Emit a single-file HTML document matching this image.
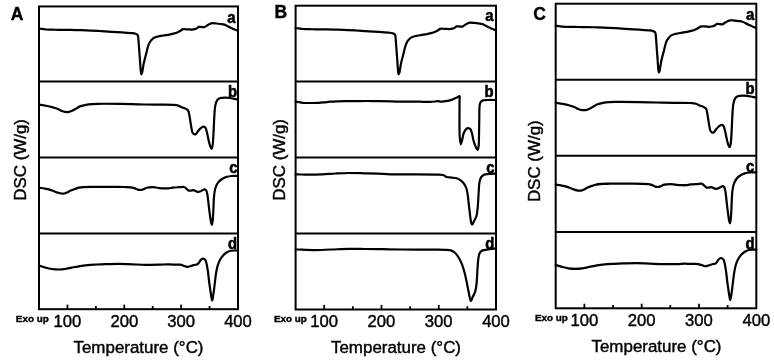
<!DOCTYPE html>
<html><head><meta charset="utf-8"><style>
html,body{margin:0;padding:0;background:#fff;}
svg{display:block;filter:grayscale(100%);}
.fr{fill:none;stroke:#000;stroke-width:2.0;}
.tk{stroke:#000;stroke-width:1.8;}
.cv{fill:none;stroke:#000;stroke-width:2.2;stroke-linejoin:round;stroke-linecap:round;}
text{font-family:"Liberation Sans",sans-serif;fill:#000;}
.pl{font-size:17.5px;font-weight:bold;}
.cl{font-size:16.5px;font-weight:bold;stroke-width:0.6px;}
.tl{font-size:16px;}
.ex{font-size:9.8px;font-weight:bold;}
.ax{font-size:16.3px;}
text{stroke:#000;stroke-width:0.4px;}
text.cl{stroke-width:0.6px;}
</style></head><body>
<svg width="774" height="361" viewBox="0 0 774 361">
<rect width="774" height="361" fill="#fff"/>
<rect x="39.0" y="6.45" width="199.00" height="302.75" class="fr"/>
<line x1="39.0" y1="81.5" x2="238.0" y2="81.5" class="fr"/>
<line x1="39.0" y1="157.6" x2="238.0" y2="157.6" class="fr"/>
<line x1="39.0" y1="233.6" x2="238.0" y2="233.6" class="fr"/>
<line x1="67.43" y1="309.2" x2="67.43" y2="304.60" class="tk"/>
<line x1="95.86" y1="309.2" x2="95.86" y2="306.00" class="tk"/>
<line x1="124.29" y1="309.2" x2="124.29" y2="304.60" class="tk"/>
<line x1="152.71" y1="309.2" x2="152.71" y2="306.00" class="tk"/>
<line x1="181.14" y1="309.2" x2="181.14" y2="304.60" class="tk"/>
<line x1="209.57" y1="309.2" x2="209.57" y2="306.00" class="tk"/>
<rect x="295.6" y="5.7" width="200.40" height="303.80" class="fr"/>
<line x1="295.6" y1="81.5" x2="496.0" y2="81.5" class="fr"/>
<line x1="295.6" y1="157.5" x2="496.0" y2="157.5" class="fr"/>
<line x1="295.6" y1="233.5" x2="496.0" y2="233.5" class="fr"/>
<line x1="324.23" y1="309.5" x2="324.23" y2="304.90" class="tk"/>
<line x1="352.86" y1="309.5" x2="352.86" y2="306.30" class="tk"/>
<line x1="381.49" y1="309.5" x2="381.49" y2="304.90" class="tk"/>
<line x1="410.11" y1="309.5" x2="410.11" y2="306.30" class="tk"/>
<line x1="438.74" y1="309.5" x2="438.74" y2="304.90" class="tk"/>
<line x1="467.37" y1="309.5" x2="467.37" y2="306.30" class="tk"/>
<path d="M39.00,28.70 C40.00,28.77 40.93,28.78 42.00,28.90 C43.24,29.03 44.39,29.36 46.00,29.50 C48.39,29.71 52.30,29.70 55.00,29.75 C57.20,29.79 58.80,29.78 61.00,29.80 C63.70,29.83 67.19,29.85 70.00,29.90 C72.48,29.94 74.99,29.99 77.00,30.05 C78.52,30.09 79.37,30.14 81.00,30.20 C83.58,30.30 87.96,30.47 91.00,30.60 C93.54,30.71 96.10,30.80 98.00,30.90 C99.30,30.97 99.89,31.01 101.30,31.10 C103.80,31.26 108.24,31.58 111.70,31.80 C115.14,32.02 118.56,32.17 122.00,32.40 C125.46,32.63 129.96,32.87 132.40,33.20 C133.74,33.38 134.64,33.52 135.50,33.80 C136.17,34.02 136.78,34.21 137.20,34.60 C137.59,34.96 137.79,35.34 138.00,36.00 C138.41,37.28 138.41,39.78 138.60,42.00 C138.84,44.76 139.07,48.20 139.30,51.30 C139.53,54.40 139.78,57.60 140.00,60.60 C140.21,63.42 140.35,66.34 140.60,68.80 C140.80,70.82 140.92,74.24 141.30,74.30 C141.52,74.33 141.87,73.32 142.10,72.60 C142.45,71.49 142.65,69.65 142.90,68.20 C143.15,66.78 143.30,65.48 143.60,64.00 C143.94,62.31 144.45,60.39 144.90,58.60 C145.35,56.82 145.89,54.91 146.30,53.30 C146.64,51.96 146.89,50.81 147.20,49.60 C147.49,48.44 147.73,47.33 148.10,46.20 C148.49,45.03 148.91,43.76 149.50,42.70 C150.06,41.70 150.75,40.82 151.50,40.00 C152.25,39.19 153.00,38.37 154.00,37.80 C155.12,37.16 156.55,36.87 158.00,36.50 C159.67,36.08 161.63,35.81 163.50,35.50 C165.43,35.18 167.62,34.95 169.40,34.60 C170.90,34.30 172.13,33.99 173.50,33.60 C174.90,33.20 176.46,32.71 177.70,32.20 C178.74,31.77 179.66,31.30 180.50,30.80 C181.24,30.36 181.66,29.68 182.50,29.40 C183.60,29.04 185.25,29.27 186.70,29.30 C188.27,29.33 190.12,29.66 191.60,29.60 C192.84,29.55 194.06,29.35 195.00,29.10 C195.71,28.91 196.22,28.73 196.80,28.40 C197.45,28.03 197.98,27.15 198.70,26.90 C199.42,26.65 200.26,26.86 201.10,26.90 C202.05,26.95 203.13,27.41 204.10,27.20 C205.16,26.97 206.23,25.94 207.20,25.40 C208.05,24.92 208.78,24.47 209.60,24.10 C210.41,23.74 211.14,23.33 212.10,23.20 C213.30,23.03 214.89,23.37 216.30,23.50 C217.73,23.63 219.22,23.81 220.60,24.00 C221.88,24.18 223.15,24.25 224.30,24.60 C225.38,24.93 226.21,25.48 227.30,26.00 C228.61,26.62 230.30,27.46 231.60,28.10 C232.69,28.64 233.58,29.17 234.60,29.60 C235.61,30.03 236.67,30.33 237.70,30.70" class="cv"/>
<path d="M39.00,104.60 C41.27,104.98 43.59,105.32 45.80,105.75 C47.92,106.16 50.02,106.56 52.00,107.10 C53.88,107.61 55.77,108.18 57.40,108.85 C58.83,109.44 59.98,110.29 61.30,110.80 C62.55,111.29 63.81,111.72 65.10,111.90 C66.38,112.08 67.79,112.11 69.00,111.90 C70.11,111.71 70.98,111.31 72.10,110.80 C73.53,110.14 75.31,108.92 76.80,108.10 C78.13,107.37 79.18,106.63 80.60,106.10 C82.23,105.49 84.20,105.13 86.10,104.80 C88.09,104.45 90.27,104.27 92.30,104.10 C94.24,103.94 95.46,103.86 98.00,103.80 C103.14,103.68 114.10,103.83 121.30,103.95 C127.52,104.05 132.90,104.27 138.70,104.40 C144.50,104.52 150.29,104.62 156.10,104.70 C161.92,104.78 169.65,104.58 173.60,104.90 C175.63,105.07 176.80,105.16 178.20,105.60 C179.48,106.00 180.51,106.80 181.70,107.30 C182.88,107.80 184.21,108.04 185.30,108.60 C186.33,109.12 187.45,109.60 188.10,110.50 C188.81,111.48 188.87,112.92 189.20,114.40 C189.63,116.30 189.93,118.79 190.30,121.00 C190.67,123.22 191.00,125.66 191.40,127.70 C191.74,129.44 191.88,131.34 192.50,132.50 C192.94,133.32 193.58,134.10 194.20,134.30 C194.70,134.46 195.28,134.32 195.80,134.00 C196.59,133.51 197.27,131.96 198.10,131.00 C198.94,130.03 199.86,128.96 200.80,128.20 C201.63,127.53 202.59,126.64 203.40,126.60 C204.07,126.56 204.77,126.91 205.30,127.50 C206.13,128.44 206.49,130.64 207.00,132.50 C207.62,134.77 208.02,137.76 208.60,140.20 C209.13,142.44 209.65,145.05 210.30,146.60 C210.70,147.56 211.24,148.85 211.60,148.80 C212.04,148.74 212.33,146.76 212.60,145.20 C213.09,142.43 213.23,137.74 213.50,133.50 C213.82,128.45 213.96,121.91 214.30,116.90 C214.58,112.74 214.69,108.48 215.30,105.50 C215.71,103.50 216.09,101.87 216.90,100.60 C217.57,99.55 218.33,98.72 219.50,98.20 C221.08,97.50 223.97,97.60 225.90,97.60 C227.50,97.60 228.88,97.79 230.30,98.00 C231.64,98.20 232.91,98.55 234.20,98.80 C235.47,99.05 236.73,99.27 238.00,99.50" class="cv"/>
<path d="M39.00,187.70 C40.73,187.97 42.45,188.19 44.20,188.50 C45.99,188.82 47.96,189.14 49.60,189.60 C51.02,190.00 52.21,190.50 53.50,191.00 C54.81,191.50 56.08,192.18 57.40,192.60 C58.68,193.01 60.07,193.36 61.30,193.50 C62.39,193.62 63.38,193.69 64.40,193.50 C65.45,193.30 66.48,192.77 67.50,192.30 C68.55,191.81 69.44,191.13 70.60,190.60 C71.96,189.98 73.72,189.40 75.20,188.90 C76.55,188.44 77.68,187.99 79.10,187.70 C80.74,187.37 82.53,187.28 84.50,187.15 C86.86,186.99 89.90,186.96 92.30,186.90 C94.35,186.85 95.69,186.81 98.00,186.80 C101.56,186.78 107.08,186.87 111.60,186.90 C116.11,186.93 121.61,186.89 125.10,187.00 C127.31,187.07 128.88,187.08 130.50,187.30 C131.86,187.48 132.99,187.72 134.20,188.10 C135.43,188.48 136.67,189.29 137.80,189.60 C138.75,189.86 139.60,190.05 140.50,190.00 C141.40,189.95 142.25,189.62 143.20,189.30 C144.33,188.92 145.45,188.15 146.80,187.80 C148.41,187.38 150.66,187.22 152.30,187.20 C153.63,187.18 154.70,187.35 155.90,187.50 C157.10,187.65 158.17,187.96 159.50,188.10 C161.14,188.27 163.37,188.32 165.00,188.35 C166.30,188.37 167.29,188.41 168.50,188.30 C169.82,188.18 171.05,187.78 172.60,187.60 C174.60,187.37 177.42,187.30 179.50,187.20 C181.22,187.11 183.06,186.67 184.20,187.00 C184.96,187.22 185.30,187.72 185.90,188.20 C186.65,188.80 187.44,190.02 188.30,190.40 C189.02,190.72 189.79,190.62 190.60,190.60 C191.51,190.58 192.60,190.09 193.50,190.20 C194.32,190.30 195.03,190.82 195.80,191.10 C196.56,191.38 197.32,191.86 198.10,191.90 C198.89,191.94 199.73,191.61 200.50,191.30 C201.30,190.98 202.06,190.34 202.80,190.00 C203.45,189.70 204.12,189.23 204.70,189.30 C205.25,189.36 205.80,189.74 206.20,190.30 C206.84,191.18 207.06,192.89 207.40,194.60 C207.88,197.02 208.12,200.40 208.50,203.50 C208.92,206.88 209.35,210.82 209.80,214.10 C210.19,216.96 210.54,220.11 211.00,222.10 C211.28,223.32 211.63,225.02 211.90,225.00 C212.26,224.97 212.56,221.64 212.80,219.40 C213.16,216.08 213.27,211.13 213.50,207.00 C213.73,202.87 213.75,198.15 214.20,194.60 C214.54,191.89 214.92,189.55 215.60,187.50 C216.16,185.82 216.77,184.42 217.70,183.10 C218.66,181.75 219.89,180.51 221.30,179.50 C222.82,178.41 224.79,177.48 226.60,176.90 C228.33,176.34 230.06,176.15 231.90,176.00 C233.86,175.84 235.97,176.00 238.00,176.00" class="cv"/>
<path d="M39.00,265.60 C41.07,266.23 43.11,266.93 45.20,267.50 C47.31,268.07 49.39,268.67 51.60,269.00 C53.92,269.35 56.48,269.51 58.80,269.50 C60.97,269.49 63.00,269.30 65.10,269.00 C67.23,268.70 69.30,268.14 71.50,267.70 C73.83,267.24 76.16,266.72 78.70,266.30 C81.53,265.84 84.69,265.40 87.70,265.10 C90.72,264.80 93.84,264.67 96.80,264.50 C99.60,264.34 101.92,264.21 105.00,264.10 C108.96,263.96 114.08,263.77 118.60,263.80 C123.11,263.83 127.59,264.13 132.10,264.30 C136.62,264.47 141.17,264.73 145.70,264.80 C150.21,264.87 155.26,264.81 159.20,264.70 C162.27,264.61 165.06,264.28 167.40,264.30 C169.15,264.31 170.24,264.53 172.00,264.60 C174.36,264.69 178.28,264.40 180.30,264.70 C181.50,264.87 182.18,265.20 183.10,265.50 C184.01,265.80 184.98,266.26 185.80,266.50 C186.45,266.69 186.96,266.91 187.60,266.90 C188.34,266.89 189.17,266.54 190.00,266.30 C190.90,266.04 191.87,265.67 192.80,265.40 C193.70,265.14 194.65,264.89 195.50,264.70 C196.24,264.53 197.02,264.65 197.60,264.30 C198.20,263.93 198.49,263.17 199.00,262.50 C199.63,261.67 200.33,260.35 201.10,259.70 C201.72,259.18 202.43,258.69 203.10,258.70 C203.79,258.71 204.65,259.16 205.20,259.80 C205.95,260.68 206.19,262.36 206.60,264.00 C207.16,266.22 207.60,269.21 208.00,272.00 C208.44,275.02 208.70,278.43 209.10,281.50 C209.47,284.39 209.91,287.27 210.30,289.90 C210.64,292.23 210.94,294.58 211.30,296.50 C211.58,298.01 211.90,300.50 212.20,300.50 C212.56,300.49 212.95,296.97 213.30,294.80 C213.76,291.96 214.18,288.21 214.60,284.90 C215.02,281.58 215.30,278.07 215.80,274.90 C216.25,272.00 216.67,269.18 217.40,266.60 C218.07,264.24 218.85,261.95 219.90,260.00 C220.85,258.23 222.09,256.61 223.30,255.30 C224.34,254.17 225.38,253.25 226.60,252.50 C227.84,251.74 229.24,251.14 230.70,250.80 C232.26,250.44 234.35,250.54 235.70,250.50 C236.61,250.47 237.23,250.50 238.00,250.50" class="cv"/>
<path d="M39.00,28.70 C40.00,28.77 40.93,28.78 42.00,28.90 C43.24,29.03 44.39,29.36 46.00,29.50 C48.39,29.71 52.30,29.70 55.00,29.75 C57.20,29.79 58.80,29.78 61.00,29.80 C63.70,29.83 67.19,29.85 70.00,29.90 C72.48,29.94 74.99,29.99 77.00,30.05 C78.52,30.09 79.37,30.14 81.00,30.20 C83.58,30.30 87.96,30.47 91.00,30.60 C93.54,30.71 96.10,30.80 98.00,30.90 C99.30,30.97 99.89,31.01 101.30,31.10 C103.80,31.26 108.24,31.58 111.70,31.80 C115.14,32.02 118.56,32.17 122.00,32.40 C125.46,32.63 129.96,32.87 132.40,33.20 C133.74,33.38 134.64,33.52 135.50,33.80 C136.17,34.02 136.78,34.21 137.20,34.60 C137.59,34.96 137.79,35.34 138.00,36.00 C138.41,37.28 138.41,39.78 138.60,42.00 C138.84,44.76 139.07,48.20 139.30,51.30 C139.53,54.40 139.78,57.60 140.00,60.60 C140.21,63.42 140.35,66.34 140.60,68.80 C140.80,70.82 140.92,74.24 141.30,74.30 C141.52,74.33 141.87,73.32 142.10,72.60 C142.45,71.49 142.65,69.65 142.90,68.20 C143.15,66.78 143.30,65.48 143.60,64.00 C143.94,62.31 144.45,60.39 144.90,58.60 C145.35,56.82 145.89,54.91 146.30,53.30 C146.64,51.96 146.89,50.81 147.20,49.60 C147.49,48.44 147.73,47.33 148.10,46.20 C148.49,45.03 148.91,43.76 149.50,42.70 C150.06,41.70 150.75,40.82 151.50,40.00 C152.25,39.19 153.00,38.37 154.00,37.80 C155.12,37.16 156.55,36.87 158.00,36.50 C159.67,36.08 161.63,35.81 163.50,35.50 C165.43,35.18 167.62,34.95 169.40,34.60 C170.90,34.30 172.13,33.99 173.50,33.60 C174.90,33.20 176.46,32.71 177.70,32.20 C178.74,31.77 179.66,31.30 180.50,30.80 C181.24,30.36 181.66,29.68 182.50,29.40 C183.60,29.04 185.25,29.27 186.70,29.30 C188.27,29.33 190.12,29.66 191.60,29.60 C192.84,29.55 194.06,29.35 195.00,29.10 C195.71,28.91 196.22,28.73 196.80,28.40 C197.45,28.03 197.98,27.15 198.70,26.90 C199.42,26.65 200.26,26.86 201.10,26.90 C202.05,26.95 203.13,27.41 204.10,27.20 C205.16,26.97 206.23,25.94 207.20,25.40 C208.05,24.92 208.78,24.47 209.60,24.10 C210.41,23.74 211.14,23.33 212.10,23.20 C213.30,23.03 214.89,23.37 216.30,23.50 C217.73,23.63 219.22,23.81 220.60,24.00 C221.88,24.18 223.15,24.25 224.30,24.60 C225.38,24.93 226.21,25.48 227.30,26.00 C228.61,26.62 230.30,27.46 231.60,28.10 C232.69,28.64 233.58,29.17 234.60,29.60 C235.61,30.03 236.67,30.33 237.70,30.70" class="cv" transform="matrix(1.007,0,0,1.0107,256.327,-0.819)"/>
<path d="M295.60,101.70 C296.17,101.73 296.57,101.71 297.30,101.80 C298.61,101.96 300.80,102.59 302.80,102.80 C305.14,103.04 307.92,102.99 310.50,103.00 C313.09,103.01 315.85,102.98 318.30,102.85 C320.49,102.73 322.51,102.50 324.50,102.30 C326.36,102.11 327.94,101.86 329.90,101.70 C332.24,101.51 335.02,101.40 337.60,101.30 C340.19,101.20 342.66,101.14 345.40,101.10 C348.43,101.05 351.30,101.06 355.00,101.05 C360.08,101.04 367.07,100.99 373.10,101.05 C379.13,101.11 385.61,101.28 391.20,101.40 C396.03,101.50 400.64,101.68 404.70,101.70 C408.03,101.72 411.06,101.59 413.80,101.60 C416.06,101.61 417.74,101.66 420.00,101.70 C422.74,101.75 426.37,101.96 429.10,101.90 C431.34,101.85 433.62,101.68 435.20,101.50 C436.22,101.39 436.79,101.11 437.70,101.10 C438.79,101.09 439.94,101.58 441.30,101.60 C443.07,101.62 445.49,101.26 447.40,100.90 C449.14,100.57 450.74,100.14 452.30,99.60 C453.80,99.08 455.31,98.36 456.60,97.75 C457.70,97.23 459.09,95.89 459.60,96.20 C460.14,96.53 459.56,98.33 459.55,100.00 C459.52,103.20 459.51,109.27 459.50,114.00 C459.49,118.86 459.41,124.34 459.50,128.80 C459.57,132.49 459.58,136.07 459.90,138.90 C460.13,140.99 460.50,144.28 460.90,144.30 C461.25,144.32 461.71,141.82 462.10,140.30 C462.61,138.34 462.85,135.45 463.60,133.50 C464.23,131.88 465.05,130.18 466.00,129.30 C466.69,128.66 467.54,128.19 468.30,128.20 C469.04,128.21 469.92,128.65 470.50,129.30 C471.28,130.18 471.55,131.91 472.00,133.50 C472.57,135.52 472.88,138.26 473.50,140.50 C474.09,142.62 474.78,144.93 475.60,146.60 C476.23,147.88 477.20,149.88 477.70,149.80 C478.18,149.72 478.38,147.93 478.60,146.50 C478.98,144.00 478.89,140.00 479.00,136.00 C479.14,130.66 479.18,122.78 479.30,117.30 C479.39,113.00 479.19,108.53 479.60,105.80 C479.83,104.24 479.97,103.12 480.60,102.20 C481.16,101.38 481.99,100.78 483.00,100.40 C484.31,99.90 486.14,100.07 488.00,100.00 C490.35,99.91 493.33,100.00 496.00,100.00" class="cv"/>
<path d="M295.60,174.40 C296.30,174.40 296.73,174.39 297.70,174.40 C299.92,174.43 304.77,174.69 308.60,174.70 C312.86,174.71 317.59,174.60 322.10,174.40 C326.63,174.20 331.17,173.73 335.70,173.50 C340.21,173.27 344.52,173.04 349.20,173.00 C354.26,172.95 359.55,173.17 365.00,173.30 C370.83,173.44 378.11,173.59 383.10,173.80 C386.62,173.95 388.58,174.19 392.10,174.30 C397.09,174.45 403.69,174.36 410.20,174.40 C417.82,174.45 428.94,174.43 435.00,174.60 C438.51,174.70 441.22,174.36 443.30,175.00 C444.72,175.43 445.33,176.56 446.60,177.00 C448.05,177.50 449.93,177.38 451.60,177.60 C453.27,177.82 455.05,177.81 456.60,178.30 C458.08,178.77 459.46,179.50 460.70,180.40 C461.97,181.32 463.16,182.49 464.10,183.80 C465.08,185.17 465.82,186.83 466.40,188.50 C467.00,190.23 467.25,191.86 467.60,194.00 C468.09,196.95 468.39,201.05 468.80,204.60 C469.22,208.18 469.66,212.17 470.10,215.40 C470.46,218.05 470.68,220.97 471.20,222.60 C471.49,223.50 471.80,224.60 472.20,224.60 C472.75,224.61 473.53,222.13 474.20,220.80 C474.93,219.37 475.83,218.15 476.40,216.30 C477.20,213.69 477.43,210.02 477.80,206.40 C478.24,202.06 478.39,196.35 478.70,192.00 C478.96,188.39 478.99,184.74 479.50,182.10 C479.85,180.28 480.15,178.84 480.90,177.60 C481.57,176.49 482.43,175.50 483.60,174.90 C485.01,174.18 487.20,174.22 489.00,174.00 C490.80,173.78 493.13,173.65 494.40,173.60 C495.09,173.57 495.47,173.60 496.00,173.60" class="cv"/>
<path d="M295.60,249.50 C296.30,249.50 296.68,249.48 297.70,249.50 C300.47,249.55 307.76,250.08 313.10,250.10 C318.89,250.12 325.18,249.70 331.20,249.50 C337.21,249.30 343.39,248.98 349.20,248.90 C354.64,248.83 359.55,248.95 365.00,249.00 C370.83,249.05 377.07,249.12 383.10,249.20 C389.13,249.28 394.23,249.43 401.20,249.50 C410.72,249.59 427.06,249.51 435.00,249.60 C439.32,249.65 442.02,249.59 445.00,249.80 C447.43,249.97 449.84,249.95 451.60,250.60 C452.96,251.10 453.86,251.85 454.90,252.80 C456.11,253.91 457.25,255.39 458.30,257.00 C459.51,258.86 460.63,261.07 461.60,263.40 C462.69,266.02 463.58,269.04 464.40,272.00 C465.26,275.09 465.94,278.47 466.60,281.60 C467.23,284.57 467.74,287.53 468.30,290.30 C468.81,292.84 469.26,295.62 469.80,297.60 C470.18,298.99 470.54,301.08 471.00,301.10 C471.52,301.12 472.15,298.25 472.80,296.80 C473.48,295.28 474.42,293.95 475.00,292.20 C475.69,290.11 476.04,287.75 476.40,285.00 C476.88,281.40 477.00,276.60 477.30,272.40 C477.60,268.20 477.72,263.27 478.20,259.80 C478.54,257.33 478.72,255.09 479.50,253.50 C480.08,252.32 480.83,251.40 481.80,250.80 C482.79,250.19 484.07,250.18 485.40,249.90 C487.01,249.56 489.01,249.22 490.80,249.00 C492.54,248.79 494.27,248.73 496.00,248.60" class="cv"/>
<rect x="555.7" y="3.7" width="200.60" height="304.60" class="fr"/>
<line x1="555.7" y1="79.8" x2="756.3" y2="79.8" class="fr"/>
<line x1="555.7" y1="155.8" x2="756.3" y2="155.8" class="fr"/>
<line x1="555.7" y1="232.1" x2="756.3" y2="232.1" class="fr"/>
<line x1="584.36" y1="308.3" x2="584.36" y2="303.70" class="tk"/>
<line x1="613.01" y1="308.3" x2="613.01" y2="305.10" class="tk"/>
<line x1="641.67" y1="308.3" x2="641.67" y2="303.70" class="tk"/>
<line x1="670.33" y1="308.3" x2="670.33" y2="305.10" class="tk"/>
<line x1="698.99" y1="308.3" x2="698.99" y2="303.70" class="tk"/>
<line x1="727.64" y1="308.3" x2="727.64" y2="305.10" class="tk"/>
<path d="M39.00,28.70 C40.00,28.77 40.93,28.78 42.00,28.90 C43.24,29.03 44.39,29.36 46.00,29.50 C48.39,29.71 52.30,29.70 55.00,29.75 C57.20,29.79 58.80,29.78 61.00,29.80 C63.70,29.83 67.19,29.85 70.00,29.90 C72.48,29.94 74.99,29.99 77.00,30.05 C78.52,30.09 79.37,30.14 81.00,30.20 C83.58,30.30 87.96,30.47 91.00,30.60 C93.54,30.71 96.10,30.80 98.00,30.90 C99.30,30.97 99.89,31.01 101.30,31.10 C103.80,31.26 108.24,31.58 111.70,31.80 C115.14,32.02 118.56,32.17 122.00,32.40 C125.46,32.63 129.96,32.87 132.40,33.20 C133.74,33.38 134.64,33.52 135.50,33.80 C136.17,34.02 136.78,34.21 137.20,34.60 C137.59,34.96 137.79,35.34 138.00,36.00 C138.41,37.28 138.41,39.78 138.60,42.00 C138.84,44.76 139.07,48.20 139.30,51.30 C139.53,54.40 139.78,57.60 140.00,60.60 C140.21,63.42 140.35,66.34 140.60,68.80 C140.80,70.82 140.92,74.24 141.30,74.30 C141.52,74.33 141.87,73.32 142.10,72.60 C142.45,71.49 142.65,69.65 142.90,68.20 C143.15,66.78 143.30,65.48 143.60,64.00 C143.94,62.31 144.45,60.39 144.90,58.60 C145.35,56.82 145.89,54.91 146.30,53.30 C146.64,51.96 146.89,50.81 147.20,49.60 C147.49,48.44 147.73,47.33 148.10,46.20 C148.49,45.03 148.91,43.76 149.50,42.70 C150.06,41.70 150.75,40.82 151.50,40.00 C152.25,39.19 153.00,38.37 154.00,37.80 C155.12,37.16 156.55,36.87 158.00,36.50 C159.67,36.08 161.63,35.81 163.50,35.50 C165.43,35.18 167.62,34.95 169.40,34.60 C170.90,34.30 172.13,33.99 173.50,33.60 C174.90,33.20 176.46,32.71 177.70,32.20 C178.74,31.77 179.66,31.30 180.50,30.80 C181.24,30.36 181.66,29.68 182.50,29.40 C183.60,29.04 185.25,29.27 186.70,29.30 C188.27,29.33 190.12,29.66 191.60,29.60 C192.84,29.55 194.06,29.35 195.00,29.10 C195.71,28.91 196.22,28.73 196.80,28.40 C197.45,28.03 197.98,27.15 198.70,26.90 C199.42,26.65 200.26,26.86 201.10,26.90 C202.05,26.95 203.13,27.41 204.10,27.20 C205.16,26.97 206.23,25.94 207.20,25.40 C208.05,24.92 208.78,24.47 209.60,24.10 C210.41,23.74 211.14,23.33 212.10,23.20 C213.30,23.03 214.89,23.37 216.30,23.50 C217.73,23.63 219.22,23.81 220.60,24.00 C221.88,24.18 223.15,24.25 224.30,24.60 C225.38,24.93 226.21,25.48 227.30,26.00 C228.61,26.62 230.30,27.46 231.60,28.10 C232.69,28.64 233.58,29.17 234.60,29.60 C235.61,30.03 236.67,30.33 237.70,30.70" class="cv" transform="matrix(1.00800,0,0,1.01800,516.388,-3.336)"/>
<path d="M39.00,104.60 C41.27,104.98 43.59,105.32 45.80,105.75 C47.92,106.16 50.02,106.56 52.00,107.10 C53.88,107.61 55.77,108.18 57.40,108.85 C58.83,109.44 59.98,110.29 61.30,110.80 C62.55,111.29 63.81,111.72 65.10,111.90 C66.38,112.08 67.79,112.11 69.00,111.90 C70.11,111.71 70.98,111.31 72.10,110.80 C73.53,110.14 75.31,108.92 76.80,108.10 C78.13,107.37 79.18,106.63 80.60,106.10 C82.23,105.49 84.20,105.13 86.10,104.80 C88.09,104.45 90.27,104.27 92.30,104.10 C94.24,103.94 95.46,103.86 98.00,103.80 C103.14,103.68 114.10,103.83 121.30,103.95 C127.52,104.05 132.90,104.27 138.70,104.40 C144.50,104.52 150.29,104.62 156.10,104.70 C161.92,104.78 169.65,104.58 173.60,104.90 C175.63,105.07 176.80,105.16 178.20,105.60 C179.48,106.00 180.51,106.80 181.70,107.30 C182.88,107.80 184.21,108.04 185.30,108.60 C186.33,109.12 187.45,109.60 188.10,110.50 C188.81,111.48 188.87,112.92 189.20,114.40 C189.63,116.30 189.93,118.79 190.30,121.00 C190.67,123.22 191.00,125.66 191.40,127.70 C191.74,129.44 191.88,131.34 192.50,132.50 C192.94,133.32 193.58,134.10 194.20,134.30 C194.70,134.46 195.28,134.32 195.80,134.00 C196.59,133.51 197.27,131.96 198.10,131.00 C198.94,130.03 199.86,128.96 200.80,128.20 C201.63,127.53 202.59,126.64 203.40,126.60 C204.07,126.56 204.77,126.91 205.30,127.50 C206.13,128.44 206.49,130.64 207.00,132.50 C207.62,134.77 208.02,137.76 208.60,140.20 C209.13,142.44 209.65,145.05 210.30,146.60 C210.70,147.56 211.24,148.85 211.60,148.80 C212.04,148.74 212.33,146.76 212.60,145.20 C213.09,142.43 213.23,137.74 213.50,133.50 C213.82,128.45 213.96,121.91 214.30,116.90 C214.58,112.74 214.69,108.48 215.30,105.50 C215.71,103.50 216.09,101.87 216.90,100.60 C217.57,99.55 218.33,98.72 219.50,98.20 C221.08,97.50 223.97,97.60 225.90,97.60 C227.50,97.60 228.88,97.79 230.30,98.00 C231.64,98.20 232.91,98.55 234.20,98.80 C235.47,99.05 236.73,99.27 238.00,99.50" class="cv" transform="matrix(1.00800,0,0,1.00768,516.388,-2.696)"/>
<path d="M39.00,187.70 C40.73,187.97 42.45,188.19 44.20,188.50 C45.99,188.82 47.96,189.14 49.60,189.60 C51.02,190.00 52.21,190.50 53.50,191.00 C54.81,191.50 56.08,192.18 57.40,192.60 C58.68,193.01 60.07,193.36 61.30,193.50 C62.39,193.62 63.38,193.69 64.40,193.50 C65.45,193.30 66.48,192.77 67.50,192.30 C68.55,191.81 69.44,191.13 70.60,190.60 C71.96,189.98 73.72,189.40 75.20,188.90 C76.55,188.44 77.68,187.99 79.10,187.70 C80.74,187.37 82.53,187.28 84.50,187.15 C86.86,186.99 89.90,186.96 92.30,186.90 C94.35,186.85 95.69,186.81 98.00,186.80 C101.56,186.78 107.08,186.87 111.60,186.90 C116.11,186.93 121.61,186.89 125.10,187.00 C127.31,187.07 128.88,187.08 130.50,187.30 C131.86,187.48 132.99,187.72 134.20,188.10 C135.43,188.48 136.67,189.29 137.80,189.60 C138.75,189.86 139.60,190.05 140.50,190.00 C141.40,189.95 142.25,189.62 143.20,189.30 C144.33,188.92 145.45,188.15 146.80,187.80 C148.41,187.38 150.66,187.22 152.30,187.20 C153.63,187.18 154.70,187.35 155.90,187.50 C157.10,187.65 158.17,187.96 159.50,188.10 C161.14,188.27 163.37,188.32 165.00,188.35 C166.30,188.37 167.29,188.41 168.50,188.30 C169.82,188.18 171.05,187.78 172.60,187.60 C174.60,187.37 177.42,187.30 179.50,187.20 C181.22,187.11 183.06,186.67 184.20,187.00 C184.96,187.22 185.30,187.72 185.90,188.20 C186.65,188.80 187.44,190.02 188.30,190.40 C189.02,190.72 189.79,190.62 190.60,190.60 C191.51,190.58 192.60,190.09 193.50,190.20 C194.32,190.30 195.03,190.82 195.80,191.10 C196.56,191.38 197.32,191.86 198.10,191.90 C198.89,191.94 199.73,191.61 200.50,191.30 C201.30,190.98 202.06,190.34 202.80,190.00 C203.45,189.70 204.12,189.23 204.70,189.30 C205.25,189.36 205.80,189.74 206.20,190.30 C206.84,191.18 207.06,192.89 207.40,194.60 C207.88,197.02 208.12,200.40 208.50,203.50 C208.92,206.88 209.35,210.82 209.80,214.10 C210.19,216.96 210.54,220.11 211.00,222.10 C211.28,223.32 211.63,225.02 211.90,225.00 C212.26,224.97 212.56,221.64 212.80,219.40 C213.16,216.08 213.27,211.13 213.50,207.00 C213.73,202.87 213.75,198.15 214.20,194.60 C214.54,191.89 214.92,189.55 215.60,187.50 C216.16,185.82 216.77,184.42 217.70,183.10 C218.66,181.75 219.89,180.51 221.30,179.50 C222.82,178.41 224.79,177.48 226.60,176.90 C228.33,176.34 230.06,176.15 231.90,176.00 C233.86,175.84 235.97,176.00 238.00,176.00" class="cv" transform="matrix(1.00800,0,0,1.04180,516.388,-10.999)"/>
<path d="M39.00,265.60 C41.07,266.23 43.11,266.93 45.20,267.50 C47.31,268.07 49.39,268.67 51.60,269.00 C53.92,269.35 56.48,269.51 58.80,269.50 C60.97,269.49 63.00,269.30 65.10,269.00 C67.23,268.70 69.30,268.14 71.50,267.70 C73.83,267.24 76.16,266.72 78.70,266.30 C81.53,265.84 84.69,265.40 87.70,265.10 C90.72,264.80 93.84,264.67 96.80,264.50 C99.60,264.34 101.92,264.21 105.00,264.10 C108.96,263.96 114.08,263.77 118.60,263.80 C123.11,263.83 127.59,264.13 132.10,264.30 C136.62,264.47 141.17,264.73 145.70,264.80 C150.21,264.87 155.26,264.81 159.20,264.70 C162.27,264.61 165.06,264.28 167.40,264.30 C169.15,264.31 170.24,264.53 172.00,264.60 C174.36,264.69 178.28,264.40 180.30,264.70 C181.50,264.87 182.18,265.20 183.10,265.50 C184.01,265.80 184.98,266.26 185.80,266.50 C186.45,266.69 186.96,266.91 187.60,266.90 C188.34,266.89 189.17,266.54 190.00,266.30 C190.90,266.04 191.87,265.67 192.80,265.40 C193.70,265.14 194.65,264.89 195.50,264.70 C196.24,264.53 197.02,264.65 197.60,264.30 C198.20,263.93 198.49,263.17 199.00,262.50 C199.63,261.67 200.33,260.35 201.10,259.70 C201.72,259.18 202.43,258.69 203.10,258.70 C203.79,258.71 204.65,259.16 205.20,259.80 C205.95,260.68 206.19,262.36 206.60,264.00 C207.16,266.22 207.60,269.21 208.00,272.00 C208.44,275.02 208.70,278.43 209.10,281.50 C209.47,284.39 209.91,287.27 210.30,289.90 C210.64,292.23 210.94,294.58 211.30,296.50 C211.58,298.01 211.90,300.50 212.20,300.50 C212.56,300.49 212.95,296.97 213.30,294.80 C213.76,291.96 214.18,288.21 214.60,284.90 C215.02,281.58 215.30,278.07 215.80,274.90 C216.25,272.00 216.67,269.18 217.40,266.60 C218.07,264.24 218.85,261.95 219.90,260.00 C220.85,258.23 222.09,256.61 223.30,255.30 C224.34,254.17 225.38,253.25 226.60,252.50 C227.84,251.74 229.24,251.14 230.70,250.80 C232.26,250.44 234.35,250.54 235.70,250.50 C236.61,250.47 237.23,250.50 238.00,250.50" class="cv" transform="matrix(1.00800,0,0,1.00768,516.388,-2.696)"/>
<text transform="translate(10.8,19.6) scale(1.0,1)" class="pl">A</text>
<text transform="translate(274.4,17.6) scale(1.0,1)" class="pl">B</text>
<text transform="translate(533.3,19.5) scale(1.0,1)" class="pl">C</text>
<text transform="translate(235.5,22.5) scale(0.9,1)" class="cl" text-anchor="end">a</text>
<text transform="translate(237.2,97.0) scale(0.9,1)" class="cl" text-anchor="end">b</text>
<text transform="translate(237.4,173.4) scale(0.9,1)" class="cl" text-anchor="end">c</text>
<text transform="translate(237.2,248.6) scale(0.9,1)" class="cl" text-anchor="end">d</text>
<text transform="translate(493.6,21.0) scale(0.9,1)" class="cl" text-anchor="end">a</text>
<text transform="translate(493.6,96.8) scale(0.9,1)" class="cl" text-anchor="end">b</text>
<text transform="translate(494.4,173.2) scale(0.9,1)" class="cl" text-anchor="end">c</text>
<text transform="translate(494.4,248.7) scale(0.9,1)" class="cl" text-anchor="end">d</text>
<text transform="translate(754.2,19.9) scale(0.9,1)" class="cl" text-anchor="end">a</text>
<text transform="translate(754.6,94.3) scale(0.9,1)" class="cl" text-anchor="end">b</text>
<text transform="translate(754.2,171.6) scale(0.9,1)" class="cl" text-anchor="end">c</text>
<text transform="translate(754.6,249.0) scale(0.9,1)" class="cl" text-anchor="end">d</text>
<text transform="translate(67.43,327.0) scale(1.04,1)" class="tl" text-anchor="middle">100</text>
<text transform="translate(124.29,327.0) scale(1.04,1)" class="tl" text-anchor="middle">200</text>
<text transform="translate(181.14,327.0) scale(1.04,1)" class="tl" text-anchor="middle">300</text>
<text transform="translate(238.0,327.0) scale(1.04,1)" class="tl" text-anchor="middle">400</text>
<text transform="translate(324.23,327.0) scale(1.04,1)" class="tl" text-anchor="middle">100</text>
<text transform="translate(381.49,327.0) scale(1.04,1)" class="tl" text-anchor="middle">200</text>
<text transform="translate(438.74,327.0) scale(1.04,1)" class="tl" text-anchor="middle">300</text>
<text transform="translate(496.0,327.0) scale(1.04,1)" class="tl" text-anchor="middle">400</text>
<text transform="translate(584.36,326.2) scale(1.04,1)" class="tl" text-anchor="middle">100</text>
<text transform="translate(641.67,326.2) scale(1.04,1)" class="tl" text-anchor="middle">200</text>
<text transform="translate(698.99,326.2) scale(1.04,1)" class="tl" text-anchor="middle">300</text>
<text transform="translate(756.3,326.2) scale(1.04,1)" class="tl" text-anchor="middle">400</text>
<text transform="translate(15.8,321.5) scale(1.01,1)" class="ex">Exo up</text>
<text transform="translate(273.9,321.5) scale(1.01,1)" class="ex">Exo up</text>
<text transform="translate(534.9,320.5) scale(1.01,1)" class="ex">Exo up</text>
<text transform="translate(138.5,352.7) scale(1.04,1)" class="ax" text-anchor="middle">Temperature (°C)</text>
<text transform="translate(396,352.7) scale(1.04,1)" class="ax" text-anchor="middle">Temperature (°C)</text>
<text transform="translate(656.5,352.3) scale(1.04,1)" class="ax" text-anchor="middle">Temperature (°C)</text>
<text transform="translate(26.4,159.9) rotate(-90) scale(1.04,1)" class="ax" text-anchor="middle">DSC (W/g)</text>
<text transform="translate(284.9,159.9) rotate(-90) scale(1.04,1)" class="ax" text-anchor="middle">DSC (W/g)</text>
<text transform="translate(540.4,161.2) rotate(-90) scale(1.04,1)" class="ax" text-anchor="middle">DSC (W/g)</text>
</svg>
</body></html>
